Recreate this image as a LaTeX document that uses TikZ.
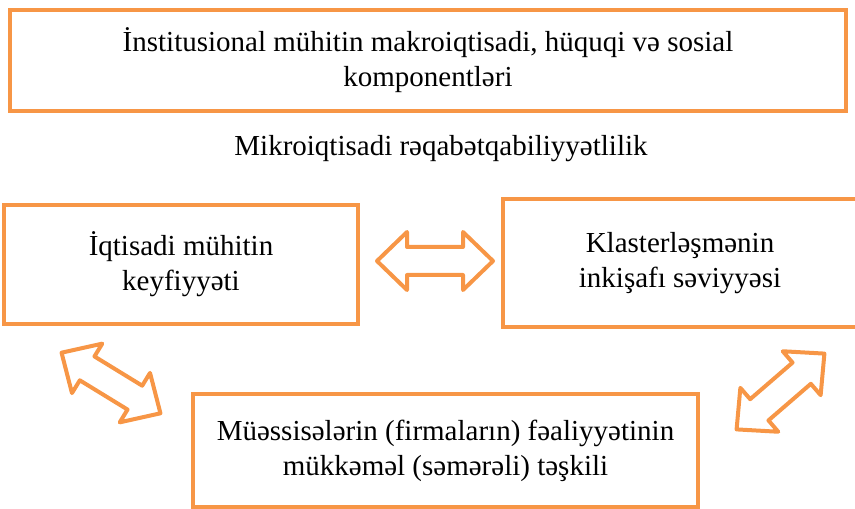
\documentclass[tikz,border=0pt]{standalone}
\usepackage{fontspec}
\setmainfont{Liberation Serif}
\usepackage{xcolor}
\definecolor{boxorange}{HTML}{F79646}

% double block arrow: centre, angle
\newcommand{\dblarrow}[2]{%
  \draw[arrowline,shift={#1},rotate=#2]
    (-58,0) -- (-28,29) -- (-28,14) -- (28,14) -- (28,29) -- (58,0)
    -- (28,-29) -- (28,-14) -- (-28,-14) -- (-28,-29) -- cycle;}

\begin{document}
\begin{tikzpicture}[x=1bp,y=-1bp,font=\fontsize{29bp}{35bp}\selectfont]
  \tikzstyle{box}=[draw=boxorange,line width=4.5bp,align=center,inner sep=0pt]
  \tikzstyle{arrowline}=[draw=boxorange,line width=4bp,line join=round]

  \useasboundingbox (0,0) rectangle (855,509);

  \node[box,minimum width=836bp,minimum height=101bp] (inst) at (428,60.5)
    {İnstitusional mühitin makroiqtisadi, hüquqi və sosial\\komponentləri};
  \node[anchor=base] (mikro) at (441,156) {Mikroiqtisadi rəqabətqabiliyyətlilik};
  \node[box,minimum width=354bp,minimum height=119bp] (iqt) at (181,264.5)
    {İqtisadi mühitin\\keyfiyyəti};
  \node[box,minimum width=354bp,minimum height=128bp] (klas) at (680,263)
    {Klasterləşmənin\\inkişafı səviyyəsi};
  \node[box,minimum width=505bp,minimum height=113bp] (muess) at (445.5,450.5)
    {Müəssisələrin (firmaların) fəaliyyətinin\\mükkəməl (səmərəli) təşkili};

  \dblarrow{(435,261)}{0}
  \dblarrow{(111,383)}{-31.5}
  \dblarrow{(780.5,391.5)}{40.8}
\end{tikzpicture}
\end{document}
